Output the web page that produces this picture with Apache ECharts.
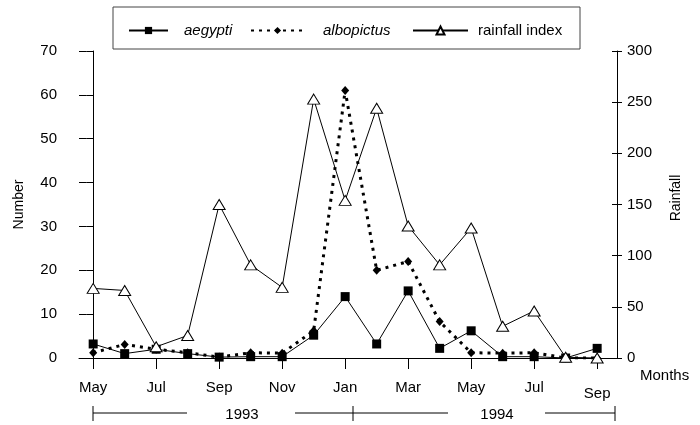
<!DOCTYPE html>
<html>
<head>
<meta charset="utf-8">
<script src="https://cdn.jsdelivr.net/npm/echarts@6/dist/echarts.min.js"></script>
<style>
  html, body { margin: 0; padding: 0; background: #fff; }
  #main { width: 700px; height: 425px; }
</style>
</head>
<body>
<div id="main"></div>
<script>
// monthly samples, May 1993 .. Sep 1994
var months = ['May', 'Jun', 'Jul', 'Aug', 'Sep', 'Oct', 'Nov', 'Dec', 'Jan', 'Feb', 'Mar', 'Apr', 'May', 'Jun', 'Jul', 'Aug', 'Sep'];
var aegypti = [3.2, 1, 2, 1, 0.2, 0.3, 0.3, 5.2, 14, 3.2, 15.3, 2.2, 6.2, 0.3, 0.3, 0, 2.2];
var albopictus = [1.2, 3.1, 2, 1.2, 0.2, 1.2, 1.1, 6.2, 61, 20, 22, 8.3, 1.2, 1.1, 1.2, 0, 0];
var rainfall = [68, 66, 11, 22, 150, 91, 69, 253, 154, 244, 129, 91, 127, 31, 46, 0.7, 0];
var monthTicks = [0, 2, 4, 6, 8, 10, 12, 14, 16];
var years = ['1993', '1994'];

var FONT = '"Liberation Sans", Arial, sans-serif';

function toPoints(arr) {
  return arr.map(function (v, i) { return [i, v]; });
}

var myChart = echarts.init(document.getElementById('main'));

function yAx(pos, max, interval, extra) {
  var a = {
    type: 'value',
    position: pos,
    min: 0,
    max: max,
    interval: interval,
    splitLine: { show: false },
    axisLine: { show: true, lineStyle: { color: '#000', width: 1 } },
    axisTick: { show: true, length: pos === 'left' ? 7 : 5, lineStyle: { color: '#000' } },
    axisLabel: { color: '#000', fontSize: 15, fontFamily: FONT, margin: pos === 'left' ? 22 : 10 }
  };
  for (var k in extra) a[k] = extra[k];
  return a;
}

var option = {
  animation: false,
  backgroundColor: '#fff',
  grid: { left: 79, right: 83, top: 51, bottom: 67 },
  legend: [
    {
      data: ['aegypti'], left: 128, top: 23, padding: 0,
      itemWidth: 39, itemHeight: 9,
      textStyle: { fontFamily: FONT, fontSize: 15, color: '#000', fontStyle: 'italic', padding: [0, 0, 0, 11] }
    },
    {
      data: ['albopictus'], left: 250, top: 23, padding: 0,
      itemWidth: 53, itemHeight: 9,
      textStyle: { fontFamily: FONT, fontSize: 15, color: '#000', fontStyle: 'italic', padding: [0, 0, 0, 14] }
    },
    {
      data: ['rainfall index'], left: 412, top: 23, padding: 0,
      itemWidth: 55, itemHeight: 10,
      textStyle: { fontFamily: FONT, fontSize: 15, color: '#000', padding: [0, 0, 0, 5] }
    }
  ],
  xAxis: {
    type: 'value',
    min: -0.45,
    max: 16.63,
    name: 'Months',
    nameLocation: 'end',
    nameGap: 23,
    nameTextStyle: { color: '#000', fontSize: 15, fontFamily: FONT, verticalAlign: 'top', padding: [10, 0, 0, 0] },
    splitLine: { show: false },
    axisLine: { show: true, onZero: false, lineStyle: { color: '#000', width: 1 } },
    axisTick: { show: true, length: 11, customValues: monthTicks, lineStyle: { color: '#000' } },
    axisLabel: {
      customValues: monthTicks,
      color: '#000', fontSize: 15, fontFamily: FONT, margin: 22,
      formatter: function (v) {
        var i = Math.round(v);
        return i === 16 ? '{low|' + months[i] + '}' : months[i];
      },
      rich: { low: { fontSize: 15, fontFamily: FONT, color: '#000', padding: [6, 0, 0, 0] } }
    }
  },
  yAxis: [
    yAx('left', 70, 10, {
      name: 'Number', nameLocation: 'middle', nameGap: 53, nameRotate: 90,
      nameTextStyle: { color: '#000', fontSize: 14, fontFamily: FONT }
    }),
    yAx('right', 300, 50, {}),
    // inner halves of the crossing ticks
    yAx('left', 70, 10, { axisLine: { show: false }, axisLabel: { show: false },
      axisTick: { show: true, inside: true, length: 7, lineStyle: { color: '#000' } } }),
    yAx('right', 300, 50, { axisLine: { show: false }, axisLabel: { show: false },
      axisTick: { show: true, inside: true, length: 5, lineStyle: { color: '#000' } } })
  ],
  series: [
    {
      name: 'aegypti', type: 'line', yAxisIndex: 0,
      data: toPoints(aegypti),
      symbol: 'rect', symbolSize: 9,
      lineStyle: { color: '#000', width: 1 },
      itemStyle: { color: '#000' }
    },
    {
      name: 'albopictus', type: 'line', yAxisIndex: 0,
      data: toPoints(albopictus),
      symbol: 'diamond', symbolSize: [8, 9],
      lineStyle: { color: '#000', width: 3, type: [3, 5] },
      itemStyle: { color: '#000' }
    },
    {
      name: 'rainfall index', type: 'line', yAxisIndex: 1,
      data: toPoints(rainfall),
      symbol: 'triangle', symbolSize: [12, 10],
      lineStyle: { color: '#000', width: 1 },
      itemStyle: { color: '#fff', borderColor: '#000', borderWidth: 1 }
    }
  ],
  graphic: [
    // legend frame
    { type: 'rect', shape: { x: 113, y: 7, width: 467, height: 42 },
      style: { fill: 'none', stroke: '#444', lineWidth: 1 }, silent: true },
    // right axis title, reading bottom to top
    { type: 'text', x: 676, y: 198, rotation: Math.PI / 2,
      style: { text: 'Rainfall', fill: '#000', font: '14px ' + FONT, textAlign: 'center', textVerticalAlign: 'middle' } },
    // year bracket below the month labels
    { type: 'line', shape: { x1: 93, y1: 413, x2: 187, y2: 413 }, style: { stroke: '#000', lineWidth: 1 } },
    { type: 'line', shape: { x1: 295, y1: 413, x2: 448, y2: 413 }, style: { stroke: '#000', lineWidth: 1 } },
    { type: 'line', shape: { x1: 545, y1: 413, x2: 615, y2: 413 }, style: { stroke: '#000', lineWidth: 1 } },
    { type: 'line', shape: { x1: 93, y1: 406, x2: 93, y2: 421 }, style: { stroke: '#000', lineWidth: 1 } },
    { type: 'line', shape: { x1: 353, y1: 406, x2: 353, y2: 421 }, style: { stroke: '#000', lineWidth: 1 } },
    { type: 'line', shape: { x1: 615, y1: 406, x2: 615, y2: 421 }, style: { stroke: '#000', lineWidth: 1 } },
    { type: 'text', x: 242, y: 415, style: { text: years[0], fill: '#000', font: '15px ' + FONT, textAlign: 'center', textVerticalAlign: 'middle' } },
    { type: 'text', x: 497, y: 415, style: { text: years[1], fill: '#000', font: '15px ' + FONT, textAlign: 'center', textVerticalAlign: 'middle' } }
  ]
};

myChart.setOption(option);
</script>
</body>
</html>
